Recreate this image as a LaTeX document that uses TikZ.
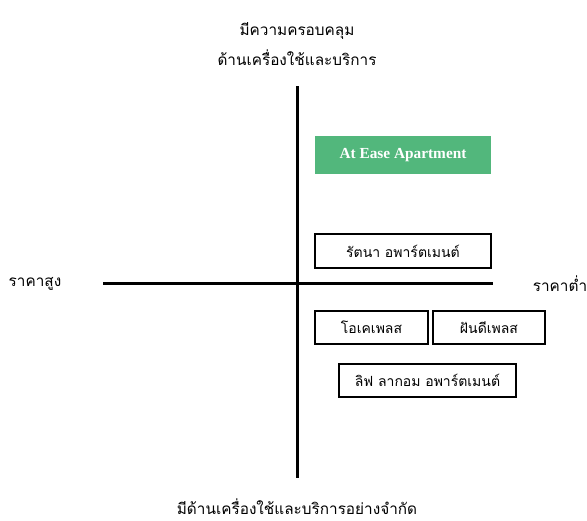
\documentclass[tikz,border=0pt]{standalone}
\usepackage{fontspec}
\setmainfont{Liberation Serif}
\newfontfamily\thaifont[Script=Thai]{Loma}
\usetikzlibrary{positioning}
\definecolor{easegreen}{RGB}{82,183,124}

\begin{document}
\begin{tikzpicture}[x=0.75pt, y=-0.75pt,
  axis/.style={line width=2.6pt},
  brand/.style={draw=black, line width=0.8pt, fill=white, inner sep=0pt,
    font=\thaifont\fontsize{10.5}{12}\selectfont},
  label/.style={font=\thaifont\fontsize{11.5}{13}\selectfont, align=center, inner sep=1pt}]
  \useasboundingbox (0,0) rectangle (587,521);
  % axes
  \coordinate (top) at (297.5,86);
  \coordinate (bottom) at (297.5,478);
  \coordinate (left) at (103,283.5);
  \coordinate (right) at (493,283.5);
  \draw [axis] (top) -- (bottom);
  \draw [axis] (left) -- (right);
  % axis labels
  \node [label] (service) at (297,44) {มีความครอบคลุม\\[6.5pt]ด้านเครื่องใช้และบริการ};
  \node [label] (limited) at (297,507) {มีด้านเครื่องใช้และบริการอย่างจำกัด};
  \node [label] (high) at (35,284) {ราคาสูง};
  \node [label] (low) at (560,284) {ราคาต่ำ};
  % apartments
  \node [fill=easegreen, text=white, inner sep=0pt, minimum width=132pt, minimum height=28.5pt,
    font=\bfseries\fontsize{11.5}{13}\selectfont] (atease) at (403,155) {At Ease Apartment};
  \node [brand, minimum width=132pt, minimum height=25.5pt] (rattana) at (403,251) {รัตนา อพาร์ตเมนต์};
  \node [brand, minimum width=84.75pt, minimum height=24.75pt] (okplace) at (371.5,327.5) {โอเคเพลส};
  \node [brand, minimum width=84pt, minimum height=24.75pt] (fundee) at (489,327.5) {ฝันดีเพลส};
  \node [brand, minimum width=132.75pt, minimum height=24.75pt] (lagom) at (427.5,380.5) {ลิฟ ลากอม อพาร์ตเมนต์};
\end{tikzpicture}
\end{document}
